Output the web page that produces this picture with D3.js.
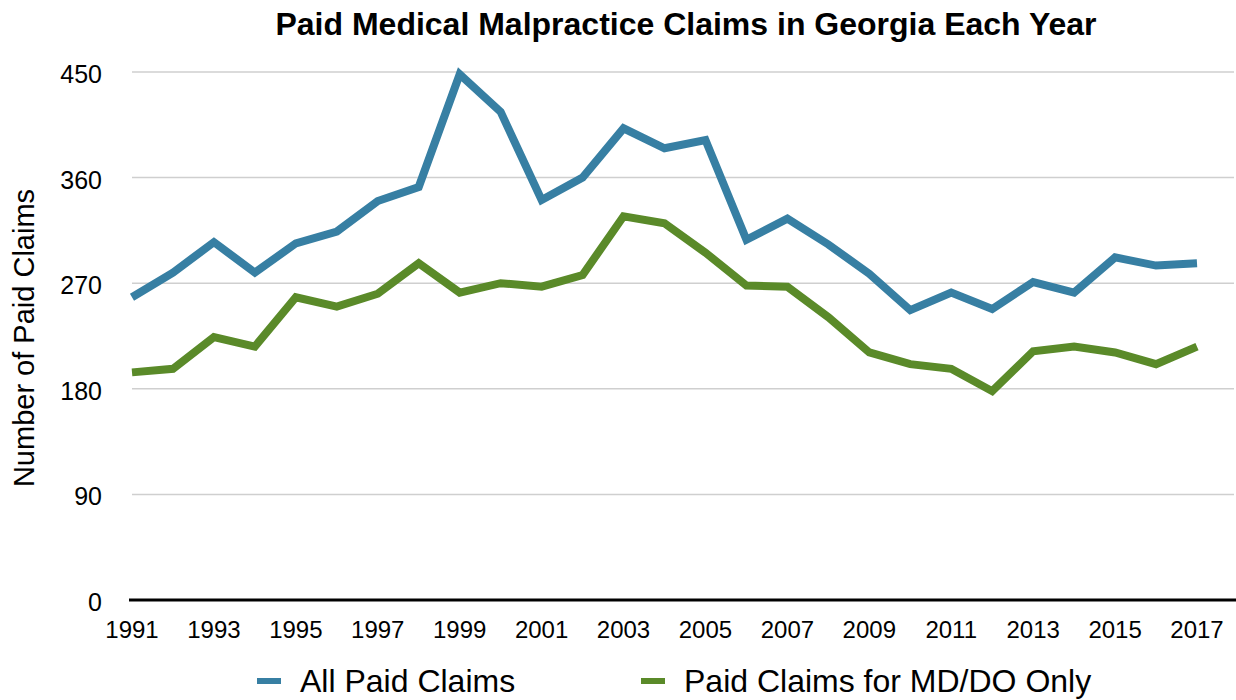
<!DOCTYPE html>
<html>
<head>
<meta charset="utf-8">
<script src="https://cdn.jsdelivr.net/npm/d3@7"></script>
<style>
  body { margin: 0; background: #fff; }
  svg { font-family: "Liberation Sans", Arial, sans-serif; }
</style>
</head>
<body>
<div id="chart"></div>
<script>
// datos
const years = d3.range(1991, 2018);
const allClaims = [258, 279, 305, 279, 304, 314, 340, 352, 448, 416, 341, 360, 402, 385, 392, 307, 325, 303, 278, 247, 262, 248, 271, 262, 292, 285, 287];
const mdClaims = [194, 197, 224, 216, 258, 250, 261, 287, 262, 270, 267, 277, 327, 321, 296, 268, 267, 241, 211, 201, 197, 178, 212, 216, 211, 201, 216];
const yTicks = [0, 90, 180, 270, 360, 450];
const seriesNames = ['All Paid Claims', 'Paid Claims for MD/DO Only'];
const colors = ['#377fa3', '#5a8a29'];

const width = 1236, height = 700;
const plotLeft = 132, plotRight = 1197, plotTop = 72, plotBottom = 600;

const svg = d3.select('#chart').append('svg').attr('width', width).attr('height', height);

const x = d3.scaleLinear().domain([1991, 2017]).range([plotLeft, plotRight]);
const y = d3.scaleLinear().domain([0, 450]).range([plotBottom, plotTop]);

// lineas de cuadricula
svg.append('g').selectAll('line')
  .data(yTicks.filter(d => d > 0))
  .enter().append('line')
  .attr('x1', plotLeft).attr('x2', 1234)
  .attr('y1', d => y(d)).attr('y2', d => y(d))
  .attr('stroke', '#cfcfcf').attr('stroke-width', 1.5);

// etiquetas eje y
svg.append('g').selectAll('text')
  .data(yTicks)
  .enter().append('text')
  .attr('x', 102).attr('y', d => y(d) + 11)
  .attr('text-anchor', 'end').attr('font-size', 25)
  .text(d => d);

// eje x
svg.append('line')
  .attr('x1', 129).attr('x2', 1236)
  .attr('y1', plotBottom).attr('y2', plotBottom)
  .attr('stroke', '#000').attr('stroke-width', 3);

svg.append('g').selectAll('text')
  .data(years.filter(d => (d - 1991) % 2 === 0))
  .enter().append('text')
  .attr('x', d => x(d)).attr('y', 638)
  .attr('text-anchor', 'middle').attr('font-size', 24)
  .text(d => d);

// lineas de datos
const line = d3.line().x((d, i) => x(years[i])).y(d => y(d));
[allClaims, mdClaims].forEach((s, i) => {
  svg.append('path')
    .datum(s)
    .attr('d', line)
    .attr('fill', 'none')
    .attr('stroke', colors[i])
    .attr('stroke-width', 8)
    .attr('stroke-linejoin', 'miter');
});

// titulo
svg.append('text')
  .attr('x', 686).attr('y', 35)
  .attr('text-anchor', 'middle').attr('font-size', 32).attr('font-weight', 'bold')
  .text('Paid Medical Malpractice Claims in Georgia Each Year');

// titulo eje y
svg.append('text')
  .attr('transform', 'translate(34,338) rotate(-90)')
  .attr('text-anchor', 'middle').attr('font-size', 29)
  .text('Number of Paid Claims');

// leyenda
const legendX = [257, 641];
seriesNames.forEach((name, i) => {
  svg.append('line')
    .attr('x1', legendX[i]).attr('x2', legendX[i] + 24)
    .attr('y1', 681).attr('y2', 681)
    .attr('stroke', colors[i]).attr('stroke-width', 6);
  svg.append('text')
    .attr('x', legendX[i] + 43).attr('y', 692)
    .attr('font-size', 32)
    .text(name);
});
</script>
</body>
</html>
